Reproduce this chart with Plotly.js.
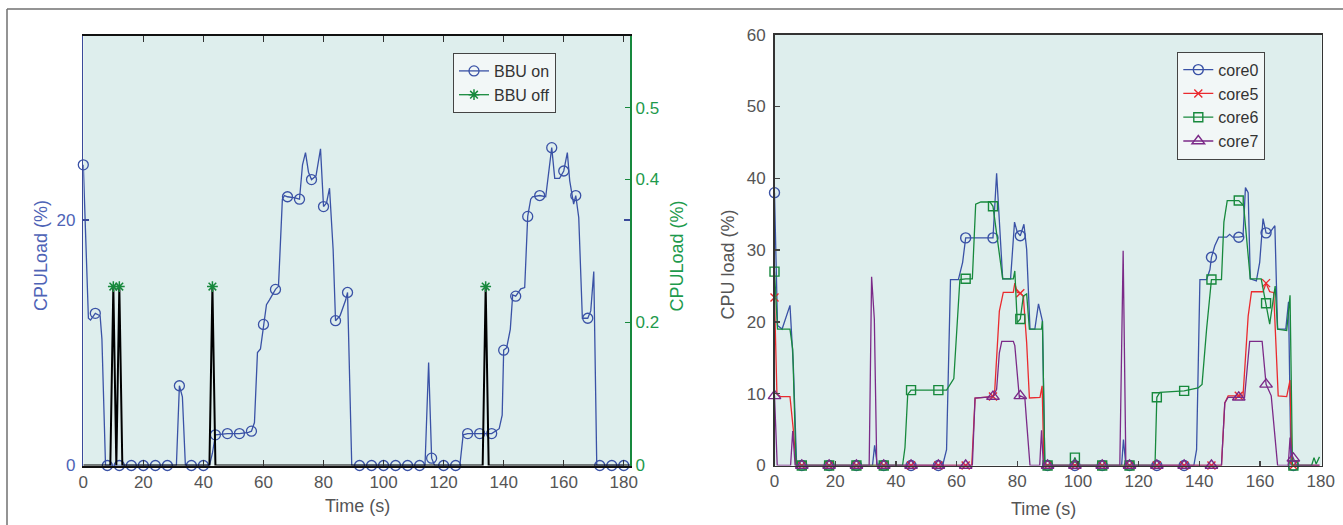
<!DOCTYPE html>
<html><head><meta charset="utf-8">
<script src="https://cdn.plot.ly/plotly-3.0.1.min.js"></script>
<style>html,body{margin:0;padding:0;background:#fff;} #chart{width:1343px;height:525px;}</style>
</head><body><div id="chart"></div>
<script>
// ---------- Left chart: BBU on (left axis, %) ----------
const onT = [0,1.7,2.4,4,5.6,6.2,7.4,8,12,16,20,24,28,31,32,33,34,36,40,42,43,44,48,52,55,56,57,58,59,60,61,62,64,65,66.3,67,68,70.5,72,73,74,75,76,77.5,79,80,81,82,83.2,84,85.5,87.4,88,89.4,92,96,100,104,108,112,113.8,115,116,117,120,124,125.4,126.5,128,132,136,138.5,139.5,140,141,142.2,143,144,145.7,147,147.8,148,149,149.6,152,154,156,157,158.6,160,161.2,162,163.3,164,165,166.2,168,169,170,171,172,176,180];
const onV = [24.5,12.0,11.85,12.4,12.2,10.3,0,0,0,0,0,0,0,0,6.5,5.6,0,0,0,0,1.0,2.5,2.6,2.6,2.7,2.8,3.5,9.2,9.5,11.5,13.1,13.5,14.35,14.6,21.7,22.0,21.9,21.8,21.7,24.5,25.5,23.9,23.3,23.6,25.8,21.1,21.4,22.6,17.6,11.8,12.2,13.5,14.1,0,0,0,0,0,0,0,0,8.4,0.6,0,0,0,0,2.5,2.6,2.6,2.6,3.0,4.1,9.4,9.6,11.1,13.9,13.8,14.4,14.5,20.1,20.3,21.7,21.9,22.0,21.9,25.9,23.4,23.4,24.0,25.5,23.2,21.3,22.0,20.2,12.0,12.0,12.6,15.8,0,0,0,0];
// BBU off (right axis)
const offT = [0,9,10,11,12,13,42,43,44,133,134,135,182];
const offV = [0,0,0.25,0,0.25,0,0,0.25,0,0,0.25,0,0];

// ---------- Right chart: per-core CPU load ----------
const c0T = [0,1,2.5,4,5.1,6.2,7.3,9,18,27,32.3,33,33.9,36,45,54,55.4,56.7,58,60.6,62,63,65,72,73.2,75.2,77.8,79.1,80,81,82.2,83.1,84.2,85.8,87,88.3,89.1,90,99,108,114.4,115,115.8,117,126,135,138.2,139.1,140.2,142.4,143.5,144,145.1,146.4,149,150,151,153,154.4,155.2,156.1,156.8,158.8,159.9,161,162,163,164.9,165.8,168.5,169.4,170.2,171,179.6];
const c0V = [38,19.5,19.0,20.8,22.3,14,0,0,0,0,0,2.8,0,0,0,0,0,2.2,25.9,25.9,28.3,31.7,31.7,31.7,40.7,26,26,33.9,32.5,32,33.6,30.1,19,19,22.5,20.1,0,0,0,0,0,3.6,0,0,0,0,0,2.2,25.9,25.9,27.3,29,30.6,31.8,31.8,32.2,31.8,31.8,31.9,38.7,38,26,25.7,28.3,34.4,32.4,32.3,33.4,19,19,22.8,0,0,0];
const c5T = [0,0.8,2,5.1,6.2,7.1,9,18,27,36,45,54,63,65,66.1,72,72.6,74.1,75.4,78.7,79.2,80,81,82,83.1,84,87.5,88.2,88.8,90,99,108,117,126,135,144,147.3,148.4,149.5,153,154.4,156.1,157.2,161,162,163.2,164.5,166,168.8,169.9,170.5,171,179.6];
const c5V = [23.4,9.9,9.6,9.6,5.0,0,0,0,0,0,0,0,0,0,9.4,9.6,10.6,21.5,24.1,24.1,25.4,24.1,24,23.6,17.1,9.4,9.5,11.1,0,0,0,0,0,0,0,0,0,8.7,9.7,9.7,9.7,20.8,24.2,24.2,25.4,24.2,24.1,9.7,9.6,11.9,0,0,0];
const c6T = [0,1,5.1,6,7.1,9,18,27,36,42.2,43,43.9,45,54,56.7,59.1,61.1,63,65.2,66.3,68,71,72,75.2,78.7,79.2,80,81,82,83.1,84,88,88.3,89.1,90,98,99,100,108,117,125.4,126,127,135,139.6,140.9,142.4,144,147.3,148.1,149.2,152.2,153,154.6,156.8,160.4,162,163.2,165,165.8,168.8,169.9,170.7,171,177,177.8,178.5,179.6];
const c6V = [27,19,19,16.2,0,0,0,0,0,0,2.5,9.9,10.5,10.5,10.5,12.1,25.9,26,26,36.4,36.7,36.7,36.1,26,26,27.1,19.9,20.4,23.6,23.9,19,19,20.1,0,0,0,1.1,0,0,0,0,9.5,10.2,10.4,10.8,11.3,19,25.9,25.9,33.9,36.9,36.9,36.9,36.2,26,26,22.6,19.7,25,19,18.8,23.7,0,0,0,1.1,0.2,1.2];
const c7T = [0,0.9,5.3,6,6.8,9,18,27,31.2,32,32.9,33.7,36,45,54,63,65.2,66.1,72,73.2,74.1,74.9,78.7,79.2,80.7,81,82.5,83.1,84.2,87.4,88,88.6,90,99,108,113.8,114.9,115.8,117,126,135,144,147.3,148.4,149.5,153,154.9,156.6,160.7,162,163.7,165.8,169.3,169.9,170.5,171,172,179.6];
const c7V = [9.7,0,0,4.8,0,0,0,0,0,26.3,20.4,0,0,0,0,0,0,9.4,9.6,10.6,15.7,17.3,17.3,16.7,9.4,9.7,9.4,6.0,0,0,4.9,0,0,0,0,0,29.9,0,0,0,0,0,0,8.7,9.5,9.5,9.5,17.3,17.3,11.3,9.7,0,0,3.9,1.5,1.0,0,0];

const leftTicks = [0,20,40,60,80,100,120,140,160,180];
const leftYTicks = [0,20];
const rightAxTicks = [0,0.2,0.4,0.5];
const rightAxText = ['0','0.2','0.4','0.5'];
const coreYTicks = [0,10,20,30,40,50,60];

// ---------- geometry helpers ----------
const W = 1343, H = 525;
const px = x => x / W;
const py = y => 1 - y / H;
const FONT = '"Liberation Sans", Arial, sans-serif';

const BLUE = '#3a52a6', RED = '#ea2a2e', GREEN = '#17893d', PURPLE = '#7b2a88';
const GREEN_T = '#1e9a4c', BLUE_T = '#4e63b6', GRAY_T = '#555555';

function pick(ts, vs, step) {
  const x = [], y = [];
  ts.forEach((t, i) => { if (Math.abs(t / step - Math.round(t / step)) < 1e-9) { x.push(t); y.push(vs[i]); } });
  return {x, y};
}

const traces = [];
// Left chart
traces.push({x: onT, y: onV, xaxis: 'x', yaxis: 'y', mode: 'lines', line: {color: BLUE, width: 1.3}, showlegend: false, hoverinfo: 'skip'});
const onM = pick(onT, onV, 4);
traces.push({x: onM.x, y: onM.y, xaxis: 'x', yaxis: 'y', mode: 'markers', cliponaxis: false, marker: {symbol: 'circle-open', size: 10, color: BLUE, line: {width: 1.3, color: BLUE}}, showlegend: false, hoverinfo: 'skip'});
traces.push({x: offT, y: offV, xaxis: 'x', yaxis: 'y2', mode: 'lines', line: {color: '#000', width: 2}, showlegend: false, hoverinfo: 'skip'});
const starX = [], starY = [];
offT.forEach((t, i) => { if (offV[i] > 0) { starX.push(t); starY.push(offV[i]); } });
traces.push({x: starX, y: starY, xaxis: 'x', yaxis: 'y2', mode: 'markers', marker: {symbol: 'asterisk-open', size: 9, color: GREEN, line: {width: 1.5, color: GREEN}}, showlegend: false, hoverinfo: 'skip'});
traces.push({x: [null], y: [null], xaxis: 'x', yaxis: 'y', name: 'BBU on', legend: 'legend', mode: 'lines+markers', line: {color: BLUE, width: 1.3}, marker: {symbol: 'circle-open', size: 10, color: BLUE, line: {width: 1.3, color: BLUE}}});
traces.push({x: [null], y: [null], xaxis: 'x', yaxis: 'y2', name: 'BBU off', legend: 'legend', mode: 'lines+markers', line: {color: GREEN, width: 1.3}, marker: {symbol: 'asterisk-open', size: 9, color: GREEN, line: {width: 1.5, color: GREEN}}});

// Right chart
const cores = [
  {name: 'core0', t: c0T, v: c0V, color: BLUE, symbol: 'circle-open', size: 10},
  {name: 'core5', t: c5T, v: c5V, color: RED, symbol: 'x-thin-open', size: 8},
  {name: 'core6', t: c6T, v: c6V, color: GREEN, symbol: 'square-open', size: 9},
  {name: 'core7', t: c7T, v: c7V, color: PURPLE, symbol: 'triangle-up-open', size: 11},
];
cores.forEach(c => {
  traces.push({x: c.t, y: c.v, xaxis: 'x2', yaxis: 'y3', mode: 'lines', line: {color: c.color, width: 1.3}, showlegend: false, hoverinfo: 'skip'});
  const m = pick(c.t, c.v, 9);
  traces.push({x: m.x, y: m.y, xaxis: 'x2', yaxis: 'y3', mode: 'markers', cliponaxis: false, marker: {symbol: c.symbol, size: c.size, color: c.color, line: {width: 1.4, color: c.color}}, showlegend: false, hoverinfo: 'skip'});
});
cores.forEach(c => {
  traces.push({x: [null], y: [null], xaxis: 'x2', yaxis: 'y3', name: c.name, legend: 'legend2', mode: 'lines+markers', line: {color: c.color, width: 1.3}, marker: {symbol: c.symbol, size: c.size, color: c.color, line: {width: 1.4, color: c.color}}});
});

const tickFont = (color) => ({family: FONT, size: 17, color: color});
const title = (text, x, y, angle, color) => ({text: text, xref: 'paper', yref: 'paper', x: px(x), y: py(y),
  xanchor: 'center', yanchor: 'middle', textangle: angle, showarrow: false, font: {family: FONT, size: 18, color: color}});

const layout = {
  width: W, height: H,
  margin: {l: 0, r: 0, t: 0, b: 0, autoexpand: false},
  paper_bgcolor: '#ffffff',
  plot_bgcolor: '#deeeed',
  font: {family: FONT, size: 17, color: GRAY_T},
  xaxis: {domain: [px(83.3), px(630.1)], range: [0, 182.1], anchor: 'y', tickvals: leftTicks,
          ticks: 'inside', ticklen: 6, tickwidth: 1.3, tickcolor: '#333', mirror: 'ticks', showline: true,
          linecolor: '#111', linewidth: 2, showgrid: false, zeroline: false, tickfont: tickFont(GRAY_T)},
  yaxis: {domain: [py(465.5), py(36)], range: [0, 35], anchor: 'x', tickvals: leftYTicks, ticklabelstandoff: 3,
          ticks: 'inside', ticklen: 6, tickwidth: 1.3, tickcolor: '#3a4a9a', mirror: 'ticks', showline: true,
          linecolor: '#3a4a9a', linewidth: 1.5, showgrid: false, zeroline: false, tickfont: tickFont(BLUE_T)},
  yaxis2: {overlaying: 'y', side: 'right', anchor: 'x', range: [0, 0.6], tickvals: rightAxTicks, ticktext: rightAxText,
           ticks: 'inside', ticklen: 5, tickwidth: 1.3, tickcolor: GREEN, showline: true, linecolor: GREEN, linewidth: 2,
           showgrid: false, zeroline: false, tickfont: tickFont(GREEN_T)},
  xaxis2: {domain: [px(774.5), px(1321.6)], range: [0, 180.3], anchor: 'y3', tickvals: leftTicks,
           ticks: 'inside', ticklen: 5, tickwidth: 1.3, tickcolor: '#444', mirror: true, showline: true,
           linecolor: '#333', linewidth: 1.5, showgrid: false, zeroline: false, tickfont: tickFont(GRAY_T)},
  yaxis3: {domain: [py(465.5), py(34.7)], range: [0, 60], anchor: 'x2', tickvals: coreYTicks, ticklabelstandoff: 4,
           ticks: 'inside', ticklen: 5, tickwidth: 1.3, tickcolor: '#444', mirror: true, showline: true,
           linecolor: '#333', linewidth: 1.5, showgrid: false, zeroline: false, tickfont: tickFont(GRAY_T)},
  legend: {x: px(453), y: py(53), xanchor: 'left', yanchor: 'top', bgcolor: '#f2f7f7', bordercolor: '#444', borderwidth: 1,
           font: {family: FONT, size: 16, color: '#333'}, tracegroupgap: 0},
  legend2: {x: px(1177.3), y: py(51.7), xanchor: 'left', yanchor: 'top', bgcolor: '#f2f7f7', bordercolor: '#444', borderwidth: 1,
           font: {family: FONT, size: 16, color: '#333'}, tracegroupgap: 0},
  annotations: [
    title('CPULoad (%)', 41, 256, -90, BLUE_T),
    title('CPULoad (%)', 676.5, 256, -90, GREEN_T),
    title('CPU load (%)', 727.5, 264, -90, GRAY_T),
    title('Time (s)', 357.8, 505.7, 0, GRAY_T),
    title('Time (s)', 1043, 509, 0, GRAY_T)
  ],
  shapes: [
    {type: 'line', xref: 'paper', yref: 'paper', x0: px(7), x1: 1.01, y0: py(9), y1: py(9), line: {color: '#707070', width: 1.5}},
    {type: 'line', xref: 'paper', yref: 'paper', x0: px(7), x1: px(7), y0: py(9), y1: -0.01, line: {color: '#707070', width: 1.5}}
  ]
};

Plotly.newPlot('chart', traces, layout, {staticPlot: true, displayModeBar: false});
</script></body></html>
